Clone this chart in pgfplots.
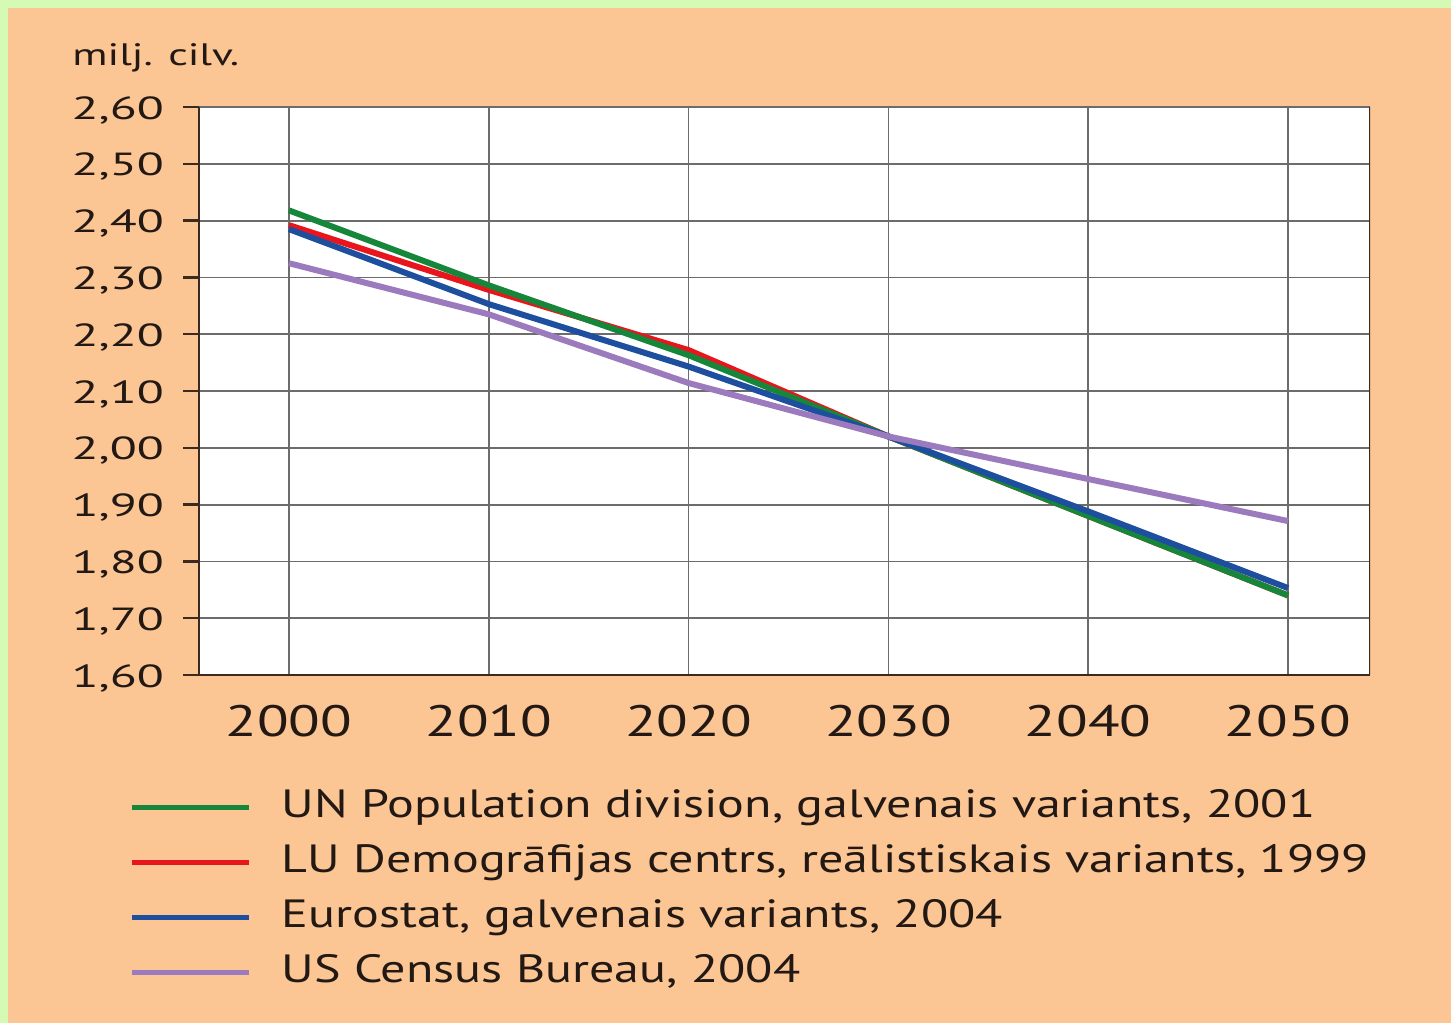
\documentclass[border=0pt]{standalone}
\usepackage{pgfplots}
\pgfplotsset{compat=1.18}
\usepackage{fontspec}
\setmainfont{PT Sans}[FakeStretch=1.27]
\newfontfamily\tfont{PT Sans}[FakeStretch=1.4]
\newfontfamily\yfont{PT Sans}[FakeStretch=1.55]
\newfontfamily\xfont{PT Sans}[FakeStretch=1.32]
\definecolor{bgpeach}{RGB}{251,197,148}
\definecolor{bggreen}{RGB}{212,250,180}
\definecolor{cgreen}{RGB}{22,135,58}
\definecolor{cred}{RGB}{232,22,28}
\definecolor{cblue}{RGB}{30,78,158}
\definecolor{cpurple}{RGB}{155,122,190}
\definecolor{axcol}{RGB}{60,42,30}
\definecolor{txt}{RGB}{35,25,20}
\begin{document}
\begin{tikzpicture}
\fill[bggreen] (-99.5pt,-174pt) rectangle (626pt,337.5pt);
\fill[bgpeach] (-95.5pt,-174pt) rectangle (626pt,333.5pt);
\node[anchor=base west, inner sep=0pt, font=\tfont\fontsize{15.5}{18}\selectfont, text=txt] at (-63.5pt,304.5pt) {milj. cilv.};
\begin{axis}[
  at={(0pt,0pt)}, anchor=south west,
  scale only axis, width=585.5pt, height=284pt,
  xmin=1995.5, xmax=2054.1, ymin=1.6, ymax=2.6,
  axis x line=bottom, axis y line=left,
  axis line style={axcol, line width=1.2pt, -},
  axis background/.style={fill=white},
  xtick={2000,2010,2020,2030,2040,2050},
  xticklabels={2000,2010,2020,2030,2040,2050},
  ytick={1.6,1.7,1.8,1.9,2.0,2.1,2.2,2.3,2.4,2.5,2.6},
  tick align=outside, major tick length=8pt,
  x tick style={draw=none},
  y tick style={axcol, line width=1.2pt},
  grid=major, major grid style={gray!85!black, line width=0.9pt},
  /pgf/number format/assume math mode=true,
  yticklabel style={/pgf/number format/.cd, fixed, fixed zerofill, precision=2, use comma, /tikz/.cd,
    font=\yfont\fontsize{16}{18}\selectfont, text=txt, xshift=-6pt, yshift=-1.5pt},
  xticklabel style={font=\xfont\fontsize{22}{24}\selectfont, text=txt, yshift=-3.5pt},
  legend style={at={(axis description cs:-0.0649,-0.194)}, anchor=north west,
    draw=none, fill=none, font=\fontsize{19.7}{23}\selectfont, text=txt,
    row sep=9.45pt, column sep=15pt,
    nodes={inner sep=0pt, text height=14pt, text depth=4pt}},
  legend cell align=left,
  legend image code/.code={\draw[#1, line width=2.6pt] (0pt,0pt) -- (58.5pt,0pt);},
  every axis plot/.append style={line width=3pt, no markers},
]
\addplot[cred, forget plot] coordinates {(2000,2.392) (2010,2.278) (2020,2.172) (2030,2.020) (2040,1.880) (2050,1.740)};
\addplot[cgreen] coordinates {(2000,2.418) (2010,2.286) (2020,2.163) (2030,2.020) (2040,1.880) (2050,1.740)};
\addlegendentry{UN Population division, galvenais variants, 2001}
\addlegendimage{cred}
\addlegendentry{LU Demogrāfijas centrs, reālistiskais variants, 1999}
\addplot[cblue] coordinates {(2000,2.385) (2010,2.253) (2020,2.143) (2030,2.020) (2040,1.888) (2050,1.753)};
\addlegendentry{Eurostat, galvenais variants, 2004}
\addplot[cpurple] coordinates {(2000,2.325) (2010,2.235) (2020,2.114) (2030,2.020) (2040,1.945) (2050,1.871)};
\addlegendentry{US Census Bureau, 2004}
\draw[axcol, line width=1.2pt] (rel axis cs:1,0) -- (rel axis cs:1,1);
\end{axis}
\end{tikzpicture}
\end{document}
